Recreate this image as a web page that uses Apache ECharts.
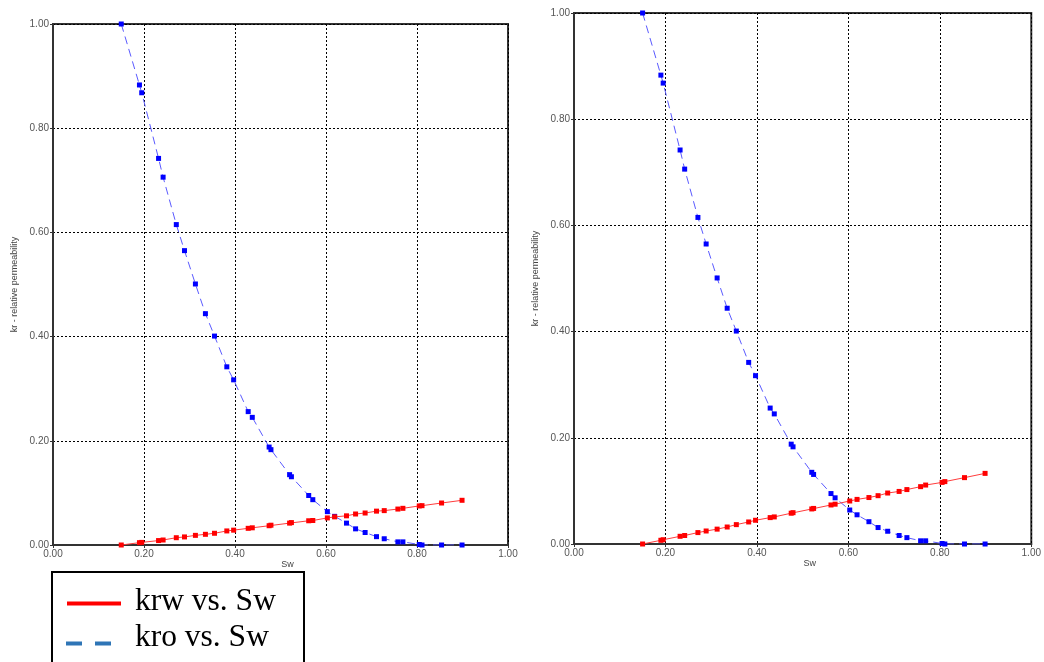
<!DOCTYPE html>
<html>
<head>
<meta charset="utf-8">
<script src="https://cdn.jsdelivr.net/npm/echarts@6/dist/echarts.min.js"></script>
<style>
  html, body { margin: 0; padding: 0; background: #ffffff; }
  #chart { width: 1044px; height: 662px; }
</style>
</head>
<body>
<div id="chart"></div>
<script>
// Water saturation samples shared by both relative-permeability curves
const sw = [0.150, 0.190, 0.195, 0.232, 0.242, 0.271, 0.289, 0.313, 0.335, 0.355,
            0.382, 0.397, 0.429, 0.438, 0.475, 0.479, 0.520, 0.524, 0.562, 0.571,
            0.603, 0.619, 0.645, 0.665, 0.686, 0.711, 0.728, 0.758, 0.769, 0.805,
            0.811, 0.854, 0.899];

// Oil relative permeability (same in both panels)
const kro = [1.000, 0.883, 0.868, 0.742, 0.706, 0.615, 0.565, 0.501, 0.444, 0.401,
             0.342, 0.317, 0.256, 0.245, 0.188, 0.183, 0.135, 0.131, 0.095, 0.087,
             0.064, 0.055, 0.042, 0.031, 0.024, 0.016, 0.012, 0.006, 0.006, 0.001,
             0.000, 0.000, 0.000];

// Water relative permeability, left panel
const krwLeft = [0.0000, 0.0045, 0.0050, 0.0085, 0.0096, 0.0140, 0.0155, 0.0185, 0.0205, 0.0225,
                 0.0270, 0.0285, 0.0320, 0.0330, 0.0370, 0.0380, 0.0420, 0.0430, 0.0465, 0.0470,
                 0.0520, 0.0540, 0.0560, 0.0595, 0.0614, 0.0650, 0.0660, 0.0690, 0.0704, 0.0750,
                 0.0755, 0.0806, 0.0858];

// Water relative permeability, right panel
const krwRight = [0.0000, 0.0070, 0.0080, 0.0145, 0.0160, 0.0215, 0.0245, 0.0280, 0.0320, 0.0365,
                  0.0415, 0.0447, 0.0497, 0.0510, 0.0580, 0.0590, 0.0660, 0.0670, 0.0735, 0.0750,
                  0.0810, 0.0840, 0.0875, 0.0910, 0.0960, 0.0990, 0.1025, 0.1080, 0.1110, 0.1160,
                  0.1175, 0.1250, 0.1330];

const axisTicks = [0, 0.2, 0.4, 0.6, 0.8, 1.0];
const xTitle = 'Sw';
const yTitle = 'kr - relative permeability';
const legendNames = ['krw vs. Sw', 'kro vs. Sw'];

const pairs = (ys) => sw.map((x, i) => [x, ys[i]]);

const chart = echarts.init(document.getElementById('chart'), null, { renderer: 'canvas' });

const gridDefs = [
  { left: 53, top: 24, width: 455, height: 521 },
  { left: 574, top: 13, width: 463, height: 531 }
];

function xAxisFor(gi) {
  return {
    type: 'value', gridIndex: gi, min: 0, max: 1, interval: 0.2,
    name: xTitle, nameLocation: 'middle', nameGap: 15, nameMoveOverlap: false,
    nameTextStyle: { fontFamily: 'Liberation Sans, Arial', fontSize: 9, color: '#444', padding: [0, 0, 0, 14] },
    axisLine: { show: true, lineStyle: { color: '#333', width: 2 } },
    axisTick: { show: true, length: 3, lineStyle: { color: '#333' } },
    axisLabel: { fontFamily: 'Liberation Sans, Arial', fontSize: 10, color: '#555', margin: 4,
                 formatter: v => v.toFixed(2) },
    splitLine: { show: true, lineStyle: { color: '#000', width: 1, type: [2, 2] } }
  };
}
function yAxisFor(gi, gap) {
  return {
    type: 'value', gridIndex: gi, min: 0, max: 1, interval: 0.2,
    name: yTitle, nameLocation: 'middle', nameGap: gap, nameRotate: 90,
    nameTextStyle: { fontFamily: 'Liberation Sans Narrow, Liberation Sans, Arial', fontSize: 9, color: '#444' },
    axisLine: { show: true, lineStyle: { color: '#333', width: 2 } },
    axisTick: { show: true, length: 3, lineStyle: { color: '#333' } },
    axisLabel: { fontFamily: 'Liberation Sans, Arial', fontSize: 10, color: '#555', margin: 4,
                 formatter: v => v.toFixed(2) },
    splitLine: { show: true, lineStyle: { color: '#000', width: 1, type: [2, 2] } }
  };
}

function kroSeries(gi) {
  return {
    name: legendNames[1], type: 'line', xAxisIndex: gi, yAxisIndex: gi,
    data: pairs(kro), symbol: 'rect', symbolSize: 5, showSymbol: true,
    itemStyle: { color: '#0000ff' },
    lineStyle: { color: '#5a5aff', width: 1, type: [8, 5] },
    animation: false, z: 3
  };
}
function krwSeries(gi, ys) {
  return {
    name: legendNames[0], type: 'line', xAxisIndex: gi, yAxisIndex: gi,
    data: pairs(ys), symbol: 'rect', symbolSize: 5, showSymbol: true,
    itemStyle: { color: '#ff0000' },
    lineStyle: { color: '#ff3c3c', width: 1 },
    animation: false, z: 4
  };
}

chart.setOption({
  animation: false,
  backgroundColor: '#ffffff',
  grid: gridDefs.map(g => Object.assign({ show: true, borderColor: '#333', borderWidth: 2, backgroundColor: 'transparent' }, g)),
  xAxis: [xAxisFor(0), xAxisFor(1)],
  yAxis: [yAxisFor(0, 34), yAxisFor(1, 34)],
  series: [krwSeries(0, krwLeft), kroSeries(0), krwSeries(1, krwRight), kroSeries(1)],
  graphic: [
    // legend box
    { type: 'rect', left: 51, top: 571, shape: { width: 252, height: 100 },
      style: { fill: '#fff', stroke: '#000', lineWidth: 2 }, z: 10 },
    { type: 'line', shape: { x1: 67, y1: 603.5, x2: 121, y2: 603.5 },
      style: { stroke: '#ff0000', lineWidth: 4 }, z: 11 },
    { type: 'line', shape: { x1: 66, y1: 643.5, x2: 112, y2: 643.5 },
      style: { stroke: '#2e75b6', lineWidth: 4, lineDash: [16, 13] }, z: 11 },
    { type: 'text', left: 135, top: 586,
      style: { text: legendNames[0], font: '31.5px "Liberation Serif", "Times New Roman", serif', fill: '#000' }, z: 11 },
    { type: 'text', left: 135, top: 622,
      style: { text: legendNames[1], font: '31.5px "Liberation Serif", "Times New Roman", serif', fill: '#000' }, z: 11 }
  ]
});
</script>
</body>
</html>
